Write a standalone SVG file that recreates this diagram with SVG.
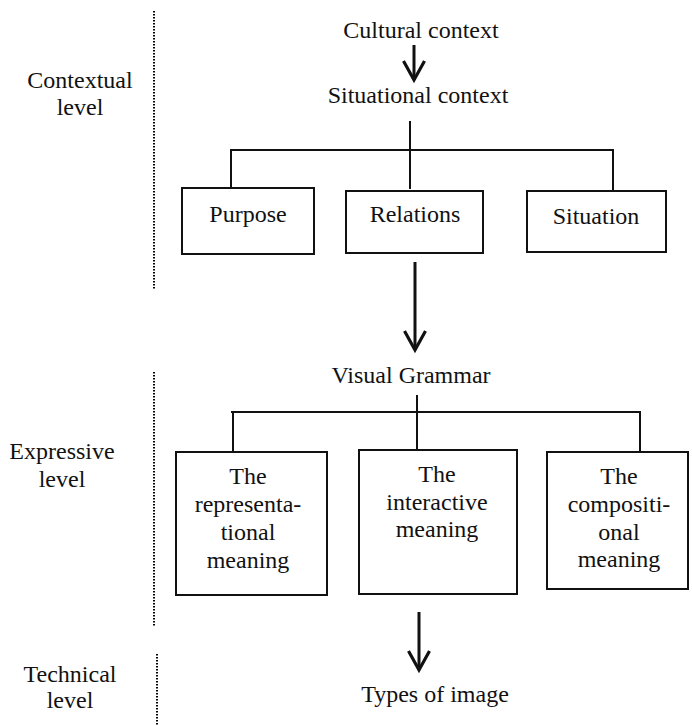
<svg xmlns="http://www.w3.org/2000/svg" width="692" height="725" viewBox="0 0 692 725" font-family="Liberation Serif, serif">
<style>
text{font-size:24px;fill:#111;text-anchor:middle}
.box{fill:#fff;stroke:#111;stroke-width:2}
.ln{stroke:#111;stroke-width:2;fill:none}
.arr{stroke:#111;stroke-width:3;fill:none}
.dot{stroke:#000;stroke-width:2;stroke-dasharray:1.6 1.4;fill:none}
</style>
<defs>
<marker id="ah" viewBox="-24 -14 28 28" refX="0" refY="0" markerWidth="28" markerHeight="28" markerUnits="userSpaceOnUse" orient="auto" overflow="visible">
<path d="M-19,-10.5 L0,0 L-19,10.5" fill="none" stroke="#111" stroke-width="3.2"/>
</marker>
</defs>
<g id="levels">
<line class="dot" x1="154" y1="11" x2="154" y2="290"/>
<line class="dot" x1="154" y1="372" x2="154" y2="627"/>
<line class="dot" x1="157" y1="654" x2="157" y2="725"/>
<text x="80" y="88">Contextual</text>
<text x="80" y="115">level</text>
<text x="62" y="459">Expressive</text>
<text x="62" y="487">level</text>
<text x="70" y="682">Technical</text>
<text x="70" y="708">level</text>
</g>
<g id="connectors">
<line class="arr" x1="414" y1="45" x2="414" y2="80" marker-end="url(#ah)"/>
<line class="ln" x1="410" y1="121" x2="410" y2="189"/>
<line class="ln" x1="230" y1="150" x2="614" y2="150"/>
<line class="ln" x1="231" y1="150" x2="231" y2="188"/>
<line class="ln" x1="613" y1="150" x2="613" y2="191"/>
<line class="arr" x1="415" y1="262" x2="415" y2="350" marker-end="url(#ah)"/>
<line class="ln" x1="417" y1="395" x2="417" y2="450"/>
<line class="ln" x1="231" y1="412" x2="641" y2="412"/>
<line class="ln" x1="233" y1="412" x2="233" y2="452"/>
<line class="ln" x1="640" y1="412" x2="640" y2="452"/>
<line class="arr" x1="419" y1="612" x2="419" y2="670" marker-end="url(#ah)"/>
</g>
<g id="cultural"><text x="421" y="38">Cultural context</text></g>
<g id="situational"><text x="418" y="103">Situational context</text></g>
<g id="purpose"><rect class="box" x="182" y="188" width="132" height="66"/><text x="248" y="222">Purpose</text></g>
<g id="relations"><rect class="box" x="346" y="191" width="137" height="62"/><text x="415" y="222">Relations</text></g>
<g id="situation"><rect class="box" x="527" y="191" width="139" height="61"/><text x="596" y="224">Situation</text></g>
<g id="visualgrammar"><text x="411" y="383">Visual Grammar</text></g>
<g id="representational"><rect class="box" x="176" y="452" width="151" height="143"/>
<text x="248" y="484">The</text><text x="248" y="512">representa-</text><text x="248" y="540">tional</text><text x="248" y="568">meaning</text></g>
<g id="interactive"><rect class="box" x="359" y="450" width="158" height="144"/>
<text x="437" y="482">The</text><text x="437" y="510">interactive</text><text x="437" y="537">meaning</text></g>
<g id="compositional"><rect class="box" x="547" y="452" width="141" height="137"/>
<text x="619" y="484">The</text><text x="619" y="512">compositi-</text><text x="619" y="540">onal</text><text x="619" y="567">meaning</text></g>
<g id="types"><text x="435" y="702">Types of image</text></g>
</svg>
